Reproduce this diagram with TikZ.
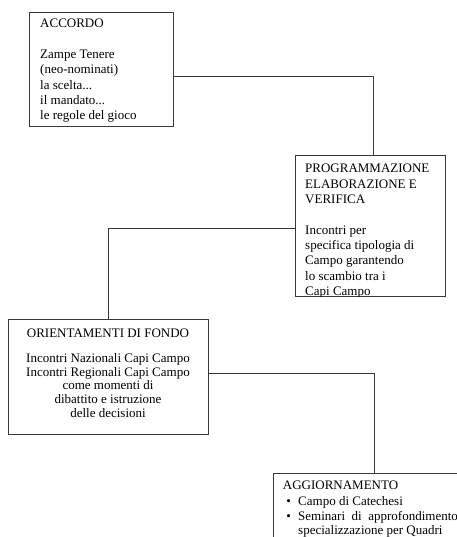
\documentclass[tikz,border=0pt]{standalone}
\usepackage{fontspec}
\setmainfont{Liberation Serif}

\begin{document}
\begin{tikzpicture}[x=1pt,y=-1pt,
    box/.style={draw=black!78, line width=0.8pt, anchor=north west, inner sep=0pt, outer sep=0pt},
    txt/.style={inner sep=0pt, text=black, font=\fontsize{13}{15.3}\selectfont},
    link/.style={draw=black!78, line width=0.8pt}]
        \useasboundingbox (0,0) rectangle (456,537);
        % Accordo
        \node[box, minimum width=144pt, minimum height=114pt] (acc) at (29,12) {};
        \node[txt, anchor=base west] (acctxt) at (40,28)
            {\begin{tabular}[t]{@{}l@{}}ACCORDO\\ \\ Zampe Tenere\\ (neo-nominati)\\ la scelta...\\ il mandato...\\ le regole del gioco\end{tabular}};
        % Programmazione
        \node[box, minimum width=150pt, minimum height=141pt] (prog) at (295,155) {};
        \begin{scope}
            \clip (prog.north west) rectangle (prog.south east);
            \node[txt, anchor=base west] (progtxt) at (305,173)
                {\begin{tabular}[t]{@{}l@{}}PROGRAMMAZIONE\\ ELABORAZIONE E\\ VERIFICA\\ \\ Incontri per\\ specifica tipologia di\\ Campo garantendo\\ lo scambio tra i\\ Capi Campo\end{tabular}};
        \end{scope}
        % Orientamenti
        \node[box, minimum width=200pt, minimum height=115pt] (orient) at (8,319) {};
        \node[txt, anchor=base] (orienttit) at (108,337.5) {ORIENTAMENTI DI FONDO};
        \node[txt, anchor=base, font=\fontsize{13}{13.7}\selectfont] (orienttxt) at (108,362.5)
            {\begin{tabular}[t]{@{}c@{}}Incontri Nazionali Capi Campo\\ Incontri Regionali Capi Campo\\ come momenti di\\ dibattito e istruzione\\ delle decisioni\end{tabular}};
        % Aggiornamento
        \node[box, minimum width=202pt, minimum height=100pt] (agg) at (273,473) {};
        \node[txt, anchor=base west] (aggtit) at (282.7,489.5) {AGGIORNAMENTO};
        \node[txt, anchor=base west, font=\fontsize{13}{14.7}\selectfont] (aggtxt) at (282.7,505.5)
            {\begin{tabular}[t]{@{}p{15.3pt}@{}p{172pt}@{}}\hspace{3.5pt}• & Campo di Catechesi\\ \hspace{3.5pt}• & Seminari di approfondimento e \hbox{specializzazione} per Quadri\end{tabular}};
        % connectors
        \draw[link] ([yshift=-7pt]acc.east) -| ([xshift=3pt]prog.north);
        \draw[link] ([yshift=-2.5pt]prog.west) -| (orient.north);
        \draw[link] ([yshift=3.5pt]orient.east) -| (agg.north);
    \end{tikzpicture}
\end{document}
